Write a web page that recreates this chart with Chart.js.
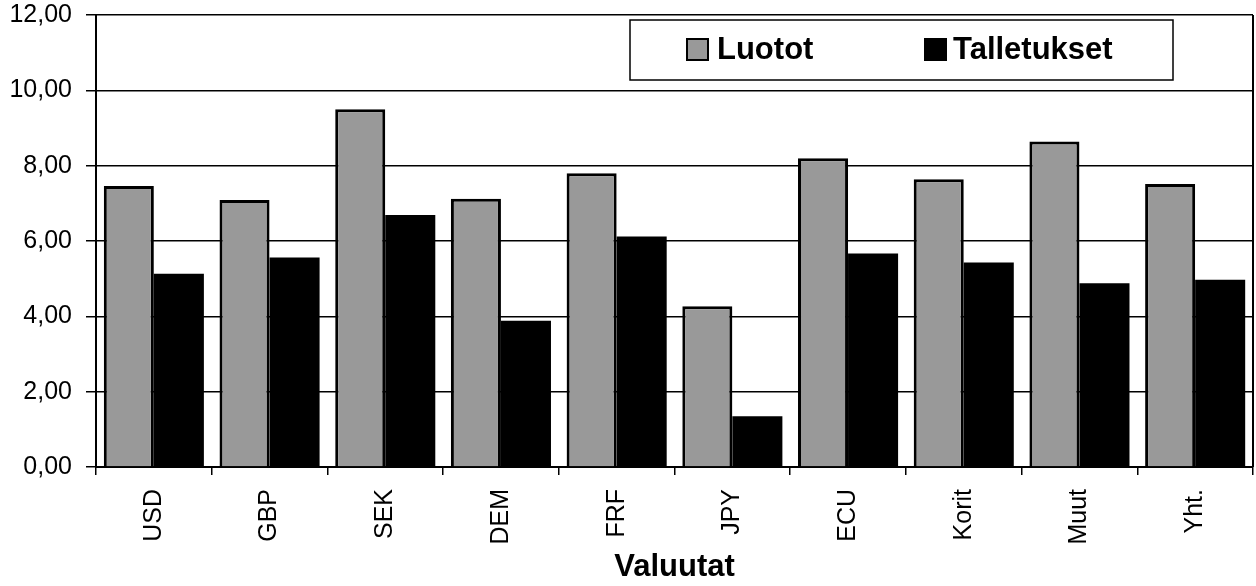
<!DOCTYPE html>
<html>
<head>
<meta charset="utf-8">
<script src="https://cdn.jsdelivr.net/npm/chart.js@4/dist/chart.umd.min.js"></script>
<style>
    html, body { margin: 0; padding: 0; background: #fff; }
    #wrap { width: 1256px; height: 586px; }
</style>
</head>
<body>
<div id="wrap"><canvas id="chart" width="1256" height="586"></canvas></div>
<script>
const categories = ['USD', 'GBP', 'SEK', 'DEM', 'FRF', 'JPY', 'ECU', 'Korit', 'Muut', 'Yht.'];
const luotot = [7.46, 7.09, 9.50, 7.12, 7.80, 4.27, 8.20, 7.64, 8.64, 7.51];
const talletukset = [5.13, 5.56, 6.69, 3.88, 6.12, 1.35, 5.67, 5.43, 4.88, 4.97];
const yTickLabels = ['0,00', '2,00', '4,00', '6,00', '8,00', '10,00', '12,00'];
const seriesNames = ['Luotot', 'Talletukset'];
const axisTitle = 'Valuutat';

const font = "'Liberation Sans', Arial, sans-serif";

// legend box drawn inside the plot, like the original
const boxLegend = {
    id: 'boxLegend',
    afterDraw(chart) {
        const ctx = chart.ctx;
        const area = chart.chartArea;
        ctx.save();
        // right border of the plot
        ctx.strokeStyle = '#000';
        ctx.lineWidth = 2;
        ctx.beginPath();
        ctx.moveTo(area.right, area.top);
        ctx.lineTo(area.right, area.bottom);
        ctx.stroke();

        ctx.fillStyle = '#fff';
        ctx.fillRect(630, 20, 543, 60);
        ctx.lineWidth = 1.5;
        ctx.strokeRect(630, 20, 543, 60);

        const items = [
            { x: 687, tx: 717, ds: chart.data.datasets[0] },
            { x: 925, tx: 953, ds: chart.data.datasets[1] }
        ];
        ctx.font = 'bold 31px ' + font;
        ctx.textBaseline = 'middle';
        items.forEach(it => {
            ctx.fillStyle = it.ds.backgroundColor;
            ctx.fillRect(it.x, 39, 21, 21);
            ctx.lineWidth = 2;
            ctx.strokeStyle = '#000';
            ctx.strokeRect(it.x, 39, 21, 21);
            ctx.fillStyle = '#000';
            ctx.fillText(it.ds.label, it.tx, 50);
        });
        ctx.restore();
    }
};

new Chart(document.getElementById('chart').getContext('2d'), {
    type: 'bar',
    data: {
        labels: categories,
        datasets: [{
            label: seriesNames[0],
            data: luotot,
            backgroundColor: '#999999',
            borderColor: '#000',
            borderWidth: 3,
            categoryPercentage: 0.865,
            barPercentage: 1.0
        }, {
            label: seriesNames[1],
            data: talletukset,
            backgroundColor: '#000',
            borderWidth: 0,
            categoryPercentage: 0.865,
            barPercentage: 1.0
        }]
    },
    options: {
        responsive: false,
        animation: false,
        layout: { padding: { top: 0, right: 3, left: 0, bottom: 0 } },
        plugins: {
            legend: { display: false },
            tooltip: { enabled: false }
        },
        scales: {
            x: {
                grid: {
                    drawOnChartArea: false,
                    drawTicks: true,
                    tickLength: 8,
                    color: '#000',
                    lineWidth: 1.5
                },
                border: { color: '#000', width: 2 },
                ticks: {
                    color: '#000',
                    font: { family: font, size: 25 },
                    minRotation: 90,
                    maxRotation: 90,
                    padding: 14
                },
                title: {
                    display: true,
                    text: axisTitle,
                    color: '#000',
                    font: { family: font, size: 31, weight: 'bold' },
                    padding: { top: 0, bottom: 0 }
                },
                afterFit(scale) { scale.height = 119; }
            },
            y: {
                min: 0,
                max: 12,
                grid: {
                    color: '#000',
                    lineWidth: 1.5,
                    tickLength: 10
                },
                border: { color: '#000', width: 2 },
                ticks: {
                    stepSize: 2,
                    color: '#000',
                    padding: 14,
                    font: { family: font, size: 25 },
                    callback: (v, i) => yTickLabels[i]
                },
                afterFit(scale) {
                    scale.width = 96;
                    scale.paddingTop = 15;
                    scale.paddingBottom = 0;
                }
            }
        }
    },
    plugins: [boxLegend]
});
</script>
</body>
</html>
